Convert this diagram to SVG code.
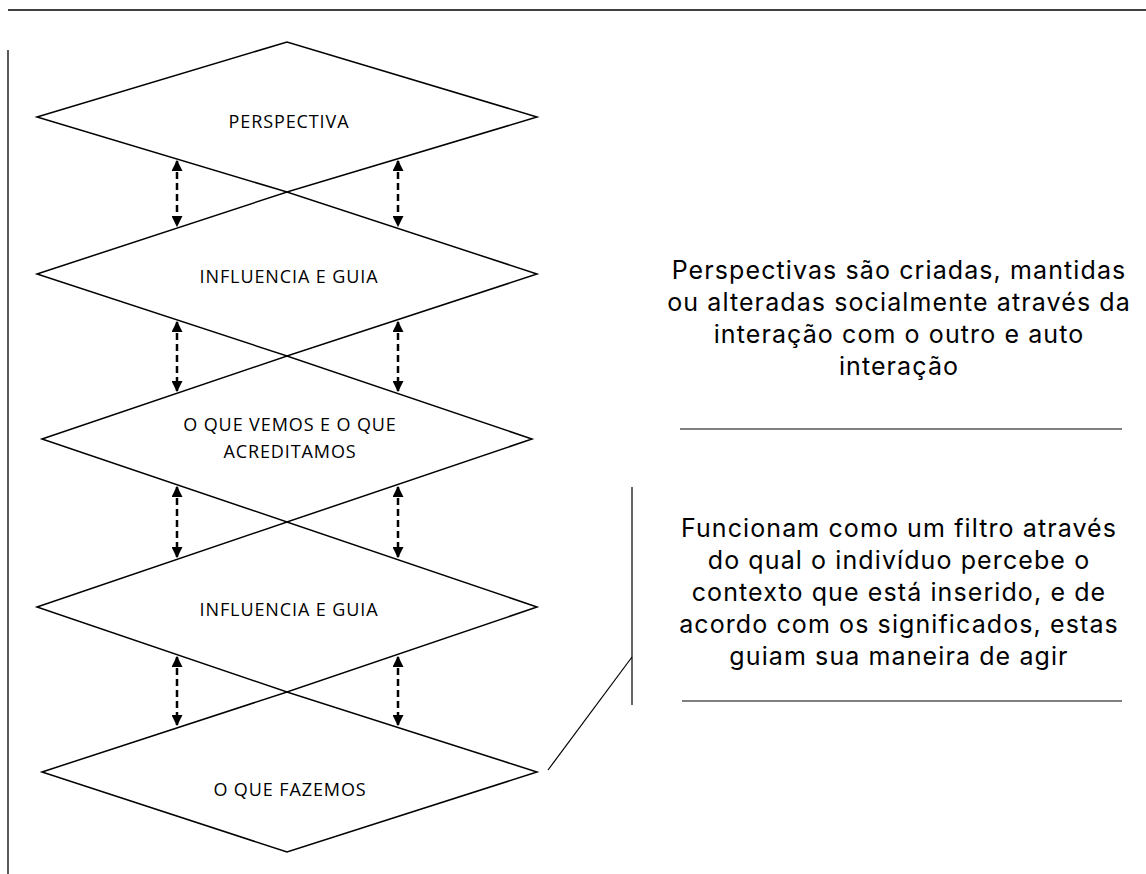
<svg xmlns="http://www.w3.org/2000/svg" width="1146" height="874" viewBox="0 0 1146 874">
<style>
.frame{stroke:#000;stroke-width:1.3;fill:none}
.dia{fill:none;stroke:#000;stroke-width:1.5;stroke-linejoin:miter}
.lbl{font-family:"Open Sans","Liberation Sans",sans-serif;font-size:18px;letter-spacing:0.9px;fill:#000;text-anchor:middle}
.note{font-family:Inter,"Open Sans","Liberation Sans",sans-serif;font-size:25px;letter-spacing:1.1px;fill:#000;text-anchor:middle}
.arr{stroke:#000;stroke-width:2.5;stroke-dasharray:7 4;fill:none;marker-start:url(#ah);marker-end:url(#ah)}
.rule{stroke:#000;stroke-width:1.2;fill:none}
</style>
<defs>
<marker id="ah" viewBox="0 0 10 10" refX="9" refY="5" markerWidth="4.4" markerHeight="4.4" orient="auto-start-reverse" markerUnits="strokeWidth">
<path d="M0,0 L10,5 L0,10 z" fill="#000"/>
</marker>
</defs>
<g id="frame">
<line class="frame" x1="8" y1="10" x2="1146" y2="10"/>
<line class="frame" x1="8" y1="50" x2="8" y2="874"/>
</g>
<g id="node-perspectiva">
<polygon class="dia" points="37,117 287,42 537,117 287,192"/>
<text class="lbl" x="289" y="128">PERSPECTIVA</text>
</g>
<g id="node-influencia1">
<polygon class="dia" points="37,274 287,192 537,274 287,356"/>
<text class="lbl" x="289" y="283">INFLUENCIA E GUIA</text>
</g>
<g id="node-vemos">
<polygon class="dia" points="42,439 287,356 532,439 287,522"/>
<text class="lbl" x="290" y="431">O QUE VEMOS E O QUE</text>
<text class="lbl" x="290" y="458">ACREDITAMOS</text>
</g>
<g id="node-influencia2">
<polygon class="dia" points="37,607 287,522 537,607 287,692"/>
<text class="lbl" x="289" y="616">INFLUENCIA E GUIA</text>
</g>
<g id="node-fazemos">
<polygon class="dia" points="42,772 287,692 537,772 287,852"/>
<text class="lbl" x="290" y="796">O QUE FAZEMOS</text>
</g>
<g id="connectors">
<line class="arr" x1="177" y1="161" x2="177" y2="226"/>
<line class="arr" x1="398" y1="161" x2="398" y2="226"/>
<line class="arr" x1="177" y1="322" x2="177" y2="391"/>
<line class="arr" x1="398" y1="322" x2="398" y2="391"/>
<line class="arr" x1="177" y1="487" x2="177" y2="557"/>
<line class="arr" x1="398" y1="487" x2="398" y2="557"/>
<line class="arr" x1="177" y1="657" x2="177" y2="725"/>
<line class="arr" x1="398" y1="657" x2="398" y2="725"/>
<line class="rule" x1="548" y1="770" x2="632" y2="657"/>
</g>
<g id="note1">
<text class="note" x="899" y="279">Perspectivas são criadas, mantidas</text>
<text class="note" x="899" y="311">ou alteradas socialmente através da</text>
<text class="note" x="899" y="343">interação com o outro e auto</text>
<text class="note" x="899" y="375">interação</text>
<line class="rule" x1="680" y1="429" x2="1122" y2="429"/>
</g>
<g id="note2">
<line class="rule" x1="632" y1="487" x2="632" y2="705"/>
<text class="note" x="899" y="537">Funcionam como um filtro através</text>
<text class="note" x="899" y="569">do qual o indivíduo percebe o</text>
<text class="note" x="899" y="601">contexto que está inserido, e de</text>
<text class="note" x="899" y="633">acordo com os significados, estas</text>
<text class="note" x="899" y="665">guiam sua maneira de agir</text>
<line class="rule" x1="682" y1="701" x2="1122" y2="701"/>
</g>
</svg>
